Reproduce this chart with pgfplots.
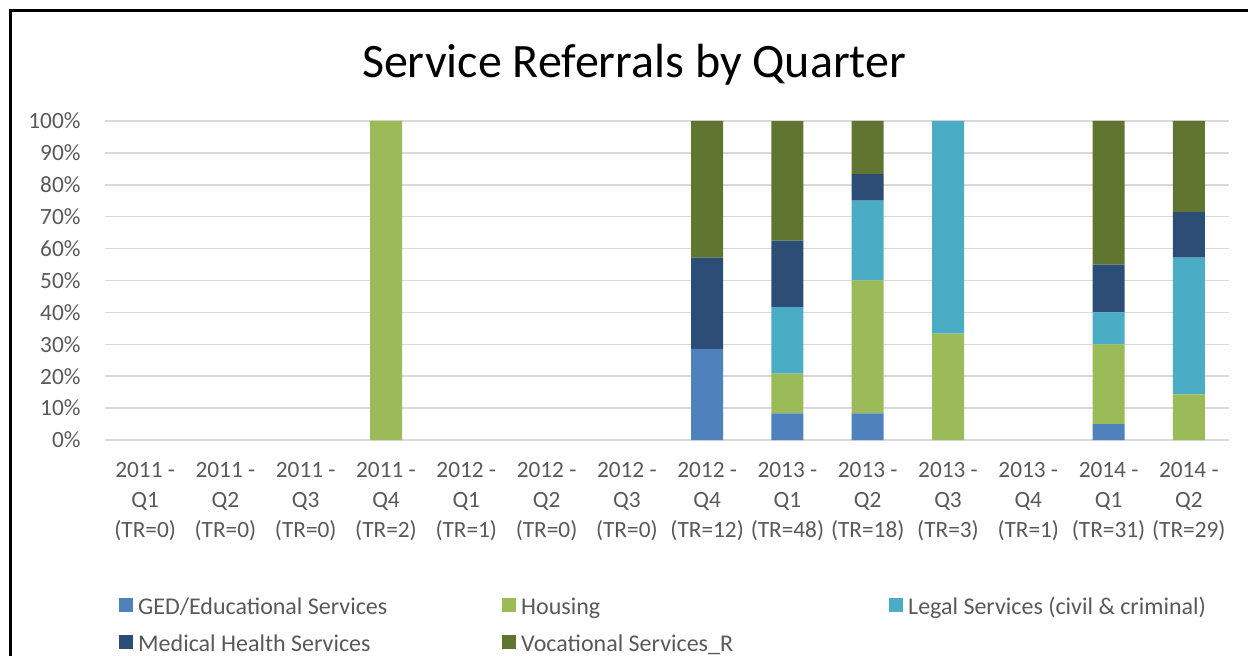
\documentclass[border=0pt]{standalone}
\usepackage{pgfplots}
\usepackage{pgfplotstable}
\pgfplotsset{compat=1.18}
\usepackage{fontspec}
\setmainfont{Carlito}
\definecolor{ged}{HTML}{4F81BD}
\definecolor{housing}{HTML}{9BBB59}
\definecolor{legal}{HTML}{4BACC6}
\definecolor{medical}{HTML}{2C4D75}
\definecolor{voc}{HTML}{5F7530}
\definecolor{gridgray}{HTML}{D9D9D9}
\definecolor{labelgray}{HTML}{595959}

\pgfplotstableread{
x ged housing legal medical voc
0 0 0 0 0 0
1 0 0 0 0 0
2 0 0 0 0 0
3 0 100 0 0 0
4 0 0 0 0 0
5 0 0 0 0 0
6 0 0 0 0 0
7 28.57 0 0 28.57 42.86
8 8.33 12.5 20.83 20.83 37.5
9 8.33 41.67 25 8.33 16.67
10 0 33.33 66.67 0 0
11 0 0 0 0 0
12 5 25 10 15 45
13 0 14.29 42.86 14.29 28.57
}\datatable

\begin{document}
\begin{tikzpicture}[x=1pt,y=1pt]
\useasboundingbox (0,0) rectangle (1248,656);
\draw[line width=2.5pt] (10.5,0) -- (10.5,645.5) -- (1248,645.5);
\node[anchor=base, font=\fontsize{48}{58}\selectfont] at (634,578) {Service Referrals by Quarter};
\begin{axis}[
  at={(105pt,216pt)}, anchor=south west,
  scale only axis, width=1124pt, height=319pt,
  xmin=-0.5, xmax=13.5, ymin=0, ymax=100,
  ybar stacked, bar width=32pt,
  axis line style={draw=none},
  tick style={draw=none},
  major tick length=0pt,
  ymajorgrids, xmajorgrids=false,
  grid style={color=gridgray, line width=1.5pt},
  ytick={0,10,...,100},
  yticklabels={0\%,10\%,20\%,30\%,40\%,50\%,60\%,70\%,80\%,90\%,100\%},
  xtick={0,...,13},
  xticklabels={{2011 -\\Q1\\(TR=0)},{2011 -\\Q2\\(TR=0)},{2011 -\\Q3\\(TR=0)},{2011 -\\Q4\\(TR=2)},
    {2012 -\\Q1\\(TR=1)},{2012 -\\Q2\\(TR=0)},{2012 -\\Q3\\(TR=0)},{2012 -\\Q4\\(TR=12)},
    {2013 -\\Q1\\(TR=48)},{2013 -\\Q2\\(TR=18)},{2013 -\\Q3\\(TR=3)},{2013 -\\Q4\\(TR=1)},
    {2014 -\\Q1\\(TR=31)},{2014 -\\Q2\\(TR=29)}},
  xticklabel style={align=center, font=\fontsize{23.3}{30}\selectfont, text=labelgray, yshift=-19pt},
  yticklabel style={font=\fontsize{23.3}{28}\selectfont, text=labelgray, xshift=-21pt},
  legend columns=3,
  legend cell align=left,
  legend image code/.code={\fill[#1] (0pt,-5pt) rectangle (14pt,9pt);},
  legend style={at={(axis description cs:0.01246,-0.4859)}, anchor=north west,
    draw=none, fill=none, inner sep=0pt, row sep=15pt,
    font=\fontsize{24}{28}\selectfont, text=labelgray,
    /tikz/every odd column/.append style={column sep=3pt}},
]
\addplot[fill=ged, draw=none] table[x=x, y=ged] {\datatable};
\addlegendentry{\makebox[362pt][l]{GED/Educational Services}}
\addplot[fill=housing, draw=none] table[x=x, y=housing] {\datatable};
\addlegendentry{\makebox[366pt][l]{Housing}}
\addplot[fill=legal, draw=none] table[x=x, y=legal] {\datatable};
\addlegendentry{Legal Services (civil \& criminal)}
\addplot[fill=medical, draw=none] table[x=x, y=medical] {\datatable};
\addlegendentry{\makebox[362pt][l]{Medical Health Services}}
\addplot[fill=voc, draw=none] table[x=x, y=voc] {\datatable};
\addlegendentry{\makebox[366pt][l]{Vocational Services\_R}}
\end{axis}
\end{tikzpicture}
\end{document}
